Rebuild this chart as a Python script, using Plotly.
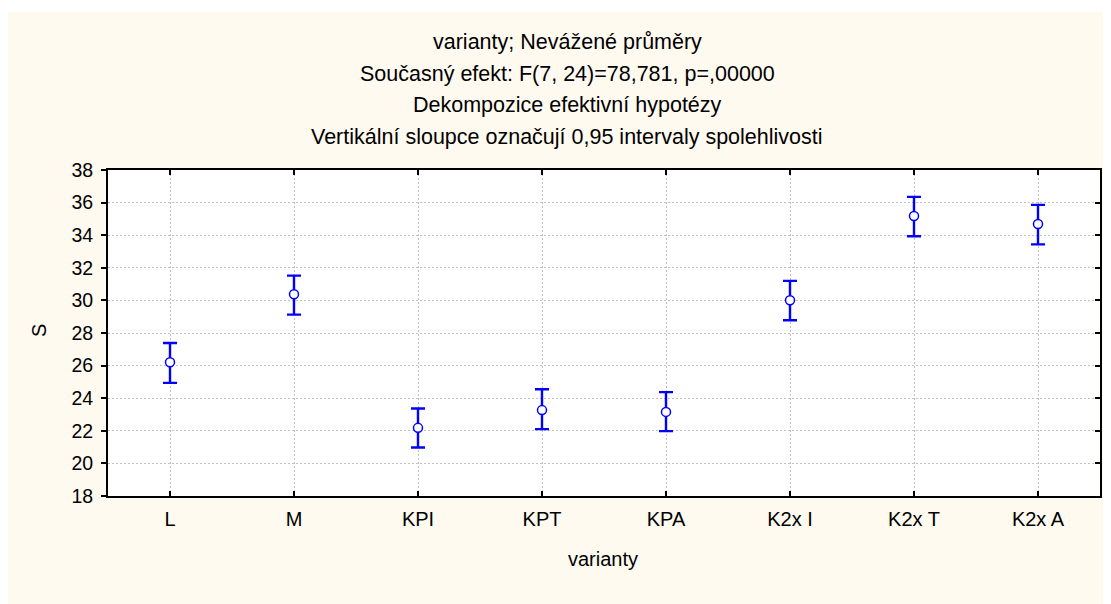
import plotly.graph_objects as go

categories = ["L", "M", "KPI", "KPT", "KPA", "K2x I", "K2x T", "K2x A"]
means = [26.21, 30.38, 22.18, 23.27, 23.16, 30.01, 35.18, 34.69]
upper = [27.39, 31.52, 23.37, 24.55, 24.37, 31.20, 36.35, 35.86]
lower = [24.94, 29.13, 20.98, 22.10, 21.98, 28.78, 33.94, 33.44]
y_ticks = [18, 20, 22, 24, 26, 28, 30, 32, 34, 36, 38]

title_lines = [
    "varianty; Nevážené průměry",
    "Současný efekt: F(7, 24)=78,781, p=,00000",
    "Dekompozice efektivní hypotézy",
    "Vertikální sloupce označují 0,95 intervaly spolehlivosti",
]

err_plus = [u - m for u, m in zip(upper, means)]
err_minus = [m - l for m, l in zip(means, lower)]

BLUE = "#0000FF"
CREAM = "#FFFAF0"
FONT = "Liberation Sans, Arial, sans-serif"

# page layout: body margin of 8px -> figure occupies page (8,8)-(1111,604)
PL, PR, PT, PB = 108, 1100, 170, 496  # plot area in page pixels


def px_x(px):
    return (px - PL) / (PR - PL)


def px_y(py):
    return (PB - py) / (PB - PT)


fig = go.Figure()
fig.add_trace(go.Scatter(
    x=categories, y=means, mode="markers",
    marker=dict(symbol="circle", size=9, color="white",
                line=dict(color=BLUE, width=1.5)),
    error_y=dict(type="data", symmetric=False, array=err_plus,
                 arrayminus=err_minus, color=BLUE, thickness=2.4, width=7),
    showlegend=False, hoverinfo="x+y",
))
# invisible trace to anchor the right-side axis
fig.add_trace(go.Scatter(x=categories[:1], y=means[:1], yaxis="y2",
                         mode="markers", marker=dict(opacity=0),
                         showlegend=False, hoverinfo="skip"))

annotations = []
title_y_px = [42, 74, 105, 137]
for txt, py in zip(title_lines, title_y_px):
    annotations.append(dict(
        text=txt, xref="paper", yref="paper",
        x=px_x(567), y=px_y(py),
        xanchor="center", yanchor="middle", showarrow=False,
        font=dict(family=FONT, size=21.5, color="#000000"),
    ))
annotations.append(dict(
    text="varianty", xref="paper", yref="paper",
    x=px_x(603), y=px_y(559), xanchor="center", yanchor="middle",
    showarrow=False, font=dict(family=FONT, size=20, color="#000000"),
))
annotations.append(dict(
    text="S", xref="paper", yref="paper", textangle=-90,
    x=px_x(39), y=px_y(331), xanchor="center", yanchor="middle",
    showarrow=False, font=dict(family=FONT, size=20, color="#000000"),
))

shapes = [
    dict(type="rect", xref="paper", yref="paper", layer="below",
         x0=-0.3, x1=1.2, y0=px_y(12), y1=1.8,
         fillcolor="white", line=dict(width=0)),
]

fig.update_layout(
    width=1103, height=596,
    margin=dict(l=PL - 8, r=1111 - PR, t=PT - 8, b=604 - PB),
    paper_bgcolor=CREAM, plot_bgcolor="white",
    font=dict(family=FONT, size=19, color="#000000"),
    annotations=annotations, shapes=shapes,
    xaxis=dict(
        type="category", categoryorder="array", categoryarray=categories,
        range=[-0.5, 7.5], showline=True, linecolor="#000000", linewidth=2,
        mirror="ticks", ticks="inside", ticklen=5, tickwidth=1.5,
        tickcolor="#000000", showgrid=True, gridcolor="#C0C0C0",
        griddash="2px,2px", gridwidth=1, tickfont=dict(size=20),
        ticklabelstandoff=4, zeroline=False, fixedrange=True,
    ),
    yaxis=dict(
        range=[18, 38], tickvals=y_ticks, ticktext=[str(v) for v in y_ticks],
        showline=True, linecolor="#000000", linewidth=2,
        ticks="outside", ticklen=5, tickwidth=1.5, tickcolor="#000000",
        showgrid=True, gridcolor="#C0C0C0", griddash="2px,2px", gridwidth=1,
        tickfont=dict(size=19.5), ticklabelstandoff=4, zeroline=False,
        fixedrange=True,
    ),
    yaxis2=dict(
        overlaying="y", side="right", range=[18, 38], tickvals=y_ticks,
        showticklabels=False, showline=True, linecolor="#000000",
        linewidth=2, ticks="inside", ticklen=5, tickwidth=1.5,
        tickcolor="#000000", showgrid=False, zeroline=False, fixedrange=True,
    ),
)

fig.write_html("out.html")
